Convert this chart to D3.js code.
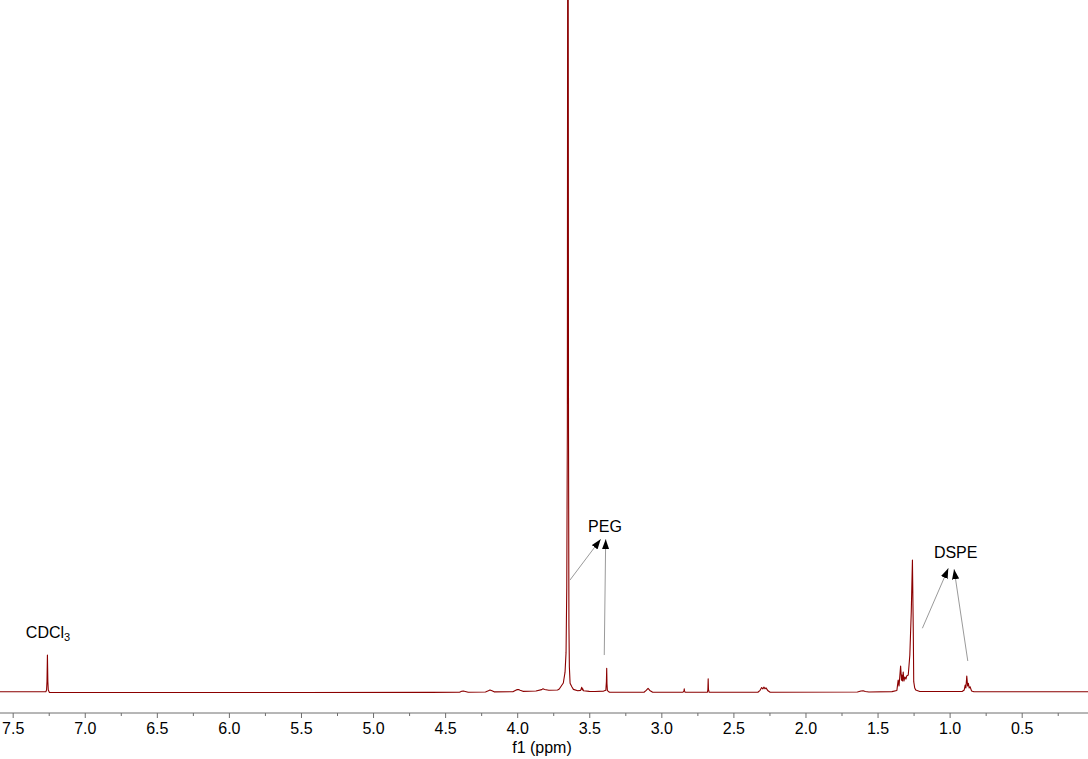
<!DOCTYPE html>
<html>
<head>
<meta charset="utf-8">
<script src="https://cdn.jsdelivr.net/npm/d3@7"></script>
<style>
  html, body { margin: 0; padding: 0; background: #fff; }
  svg { display: block; font-family: "Liberation Sans", Arial, sans-serif; }
</style>
</head>
<body>
<svg id="chart" width="1088" height="759"></svg>
<script>
// ---- data ----
// chemical shift (ppm) of the traced spectrum points
const shiftPpm = [
  7.588, 7.30, 7.27, 7.265, 7.262, 7.259, 7.256, 7.253, 7.245,
  6.5, 5.5, 4.6, 4.40, 4.385, 4.374, 4.36, 4.34,
  4.22, 4.20, 4.189, 4.175, 4.16,
  4.03, 4.01, 4.00, 3.99, 3.98, 3.96,
  3.87, 3.83, 3.821, 3.81, 3.78, 3.72,
  3.708, 3.680, 3.668, 3.661, 3.656, 3.652, 3.648, 3.644, 3.641, 3.638, 3.633, 3.621, 3.610,
  3.58, 3.56, 3.552, 3.548, 3.545, 3.54, 3.50, 3.46,
  3.40, 3.385, 3.381, 3.379, 3.377, 3.374, 3.36,
  3.12, 3.105, 3.092, 3.08, 3.06,
  2.85, 2.843, 2.841, 2.839, 2.835,
  2.68, 2.677, 2.675, 2.673, 2.668,
  2.33, 2.315, 2.304, 2.296, 2.288, 2.281, 2.274, 2.26, 2.245,
  1.64, 1.615, 1.60, 1.585, 1.56, 1.40,
  1.366, 1.357, 1.351, 1.340, 1.334, 1.331, 1.327, 1.322, 1.317, 1.310, 1.303, 1.298,
  1.287, 1.276, 1.266, 1.258, 1.252, 1.249, 1.242, 1.235, 1.207,
  0.913, 0.899, 0.892, 0.887, 0.881, 0.875, 0.870, 0.864, 0.858, 0.848, 0.831,
  0.5, 0.04
];
// relative intensity (1.25 ppm peak = 100)
const intensity = [
  0.2, 0.2, 0.2, 1.5, 8, 28, 8, 1.5, -0.3,
  -0.4, -0.4, -0.3, -0.2, 0.5, 0.8, 0.4, -0.2,
  0, 0.9, 1.5, 0.9, 0.1,
  0.2, 1.4, 1.8, 1.9, 1.4, 0.5,
  0.8, 1.8, 2.4, 1.9, 1.3, 1.5,
  2.3, 6.8, 15, 30, 80, 200, 900, 200, 50, 19, 6.6, 4, 2,
  0.9, 1.2, 3.6, 1.6, 2.4, 1.0, 0.5, 0.4,
  0.7, 1.3, 8, 18, 6, 1, -0.2,
  -0.2, 1.2, 2.8, 1.2, -0.2,
  -0.2, 1.0, 2.4, 0.7, -0.2,
  -0.2, 2, 10, 2, -0.2,
  -0.2, 1.3, 3.4, 2.4, 3.7, 2.4, 3.1, 0.9, -0.2,
  0, 0.8, 1.0, 0.4, 0, 0.3,
  1.1, 9, 4.5, 19.7, 9, 12.9, 8.3, 15.2, 8.3, 11.4, 9.8, 12.1,
  12.9, 28, 61, 100, 45, 7.8, 3, 1.5, 0.4,
  0.4, 1.5, 5.3, 3, 12.1, 4.5, 6.6, 3, 4, 0.8, 0.2,
  0.2, 0.2
];
const majorTicks = [7.5, 7.0, 6.5, 6.0, 5.5, 5.0, 4.5, 4.0, 3.5, 3.0, 2.5, 2.0, 1.5, 1.0, 0.5];
const minorTicks = [7.25, 6.75, 6.25, 5.75, 5.25, 4.75, 4.25, 3.75, 3.25, 2.75, 2.25, 1.75, 1.25, 0.75, 0.25];
const axisTitle = "f1 (ppm)";

// annotation labels (ppm, intensity)
const labelText = ["CDCl", "PEG", "DSPE"];
const labelSub = ["3", "", ""];
const labelPpm = [7.255, 3.391, 0.958];
const labelInt = [41, 121.4, 101.3];
// annotation arrows: start (ppm, intensity) -> tip (ppm, intensity)
const arrowFromPpm = [3.634, 3.396, 1.189, 0.874];
const arrowFromInt = [84.8, 28, 48.3, 23.5];
const arrowToPpm = [3.421, 3.386, 1.009, 0.969];
const arrowToInt = [115.7, 115.7, 93.7, 93];

// ---- layout ----
const W = 1088, H = 759;
const baselineY = 692, refPeakY = 560, axisY = 713;

const svg = d3.select("#chart");
const x = d3.scaleLinear().domain([7.588, 0.04]).range([0, W]);
const y = d3.scaleLinear().domain([0, 100]).range([baselineY, refPeakY]);

const defs = svg.append("defs");
defs.append("clipPath").attr("id", "plotclip")
  .append("rect").attr("x", 0).attr("y", 0).attr("width", W).attr("height", 705);
defs.append("marker")
  .attr("id", "ah")
  .attr("viewBox", "0 -4 10 8")
  .attr("refX", 10).attr("refY", 0)
  .attr("markerUnits", "userSpaceOnUse")
  .attr("markerWidth", 10).attr("markerHeight", 8)
  .attr("orient", "auto")
  .append("path").attr("d", "M0,-3.6L10,0L0,3.6Z").attr("fill", "#000");

const pts = shiftPpm.map((p, i) => [p, intensity[i]]);
const line = d3.line().x(d => x(d[0])).y(d => y(d[1]));

svg.append("g").attr("clip-path", "url(#plotclip)")
  .append("path")
  .datum(pts)
  .attr("d", line)
  .attr("fill", "none")
  .attr("stroke", "#8b0000")
  .attr("stroke-width", 1.1)
  .attr("stroke-linejoin", "round");

// arrows
const arrows = arrowFromPpm.map((p, i) => ({ x1: p, y1: arrowFromInt[i], x2: arrowToPpm[i], y2: arrowToInt[i] }));
svg.append("g").selectAll("line").data(arrows).join("line")
  .attr("x1", d => x(d.x1)).attr("y1", d => y(d.y1))
  .attr("x2", d => x(d.x2)).attr("y2", d => y(d.y2))
  .attr("stroke", "#9a9a9a").attr("stroke-width", 1)
  .attr("marker-end", "url(#ah)");

// labels
const labels = labelText.map((t, i) => ({ t, sub: labelSub[i], p: labelPpm[i], v: labelInt[i] }));
const lt = svg.append("g").selectAll("text").data(labels).join("text")
  .attr("x", d => x(d.p)).attr("y", d => y(d.v))
  .attr("text-anchor", "middle")
  .attr("font-size", 16).attr("fill", "#000");
lt.append("tspan").text(d => d.t);
lt.filter(d => d.sub).append("tspan").attr("font-size", 11).attr("dy", 3).text(d => d.sub);

// axis
const axisMajor = d3.axisBottom(x).tickValues(majorTicks).tickFormat(d3.format(".1f")).tickSize(5).tickPadding(5).tickSizeOuter(0);
const gA = svg.append("g").attr("transform", `translate(0,${axisY})`).call(axisMajor);
gA.select(".domain").attr("stroke", "#6e6e6e").attr("d", `M0,0H${W}`);
gA.selectAll(".tick line").attr("stroke", "#6e6e6e");
gA.selectAll(".tick text").attr("font-size", 16).attr("fill", "#000")
  .attr("font-family", "'Liberation Sans', Arial, sans-serif");

const axisMinor = d3.axisBottom(x).tickValues(minorTicks).tickFormat("").tickSize(3).tickSizeOuter(0);
const gM = svg.append("g").attr("transform", `translate(0,${axisY})`).call(axisMinor);
gM.select(".domain").remove();
gM.selectAll(".tick line").attr("stroke", "#6e6e6e");

svg.append("text")
  .attr("x", 542).attr("y", 753)
  .attr("text-anchor", "middle")
  .attr("font-size", 16).attr("fill", "#000")
  .text(axisTitle);
</script>
</body>
</html>
